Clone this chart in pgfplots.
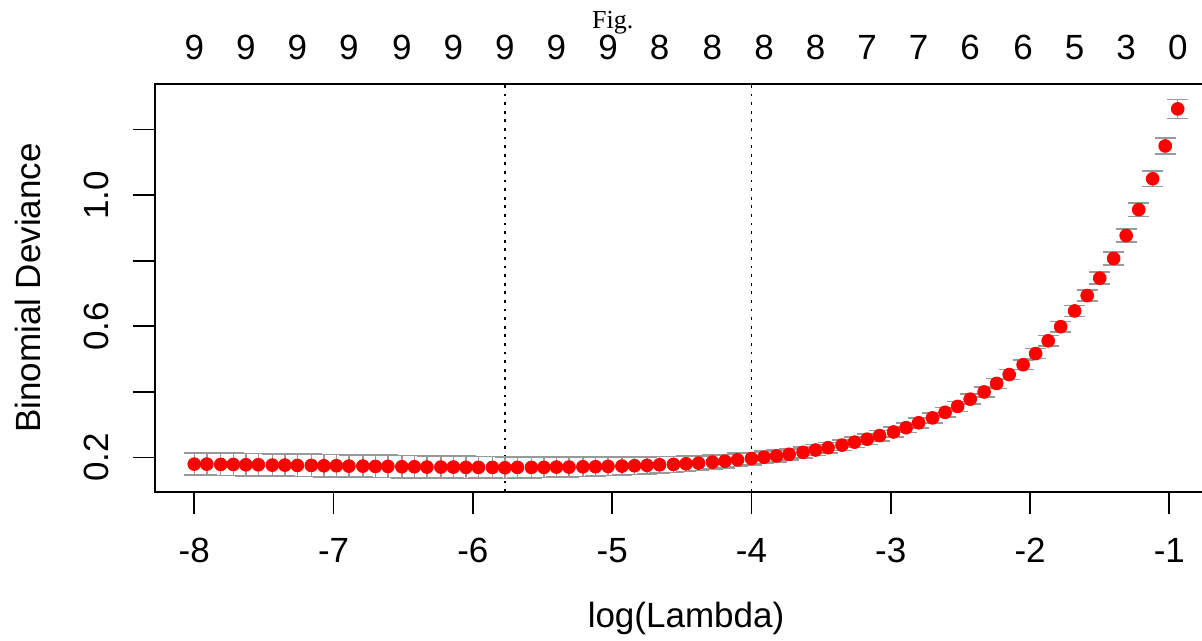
\documentclass[border=0pt]{standalone}
\usepackage{pgfplots}
\pgfplotsset{compat=1.18}
\usepackage{pgfplotstable}
\usepackage{fontspec}
\setmainfont{Liberation Sans}
\newfontfamily\seriffont{Liberation Serif}
\definecolor{errgray}{HTML}{999999}

% cv curve: log(lambda), mean deviance, standard error
\pgfplotstableread{
x y e
-8.00 0.180 0.034
-7.91 0.180 0.034
-7.81 0.179 0.034
-7.72 0.179 0.034
-7.63 0.178 0.034
-7.54 0.178 0.034
-7.44 0.177 0.034
-7.35 0.177 0.034
-7.26 0.176 0.034
-7.16 0.176 0.034
-7.07 0.175 0.034
-6.98 0.175 0.034
-6.89 0.174 0.034
-6.79 0.174 0.034
-6.70 0.173 0.034
-6.61 0.173 0.034
-6.51 0.172 0.034
-6.42 0.172 0.034
-6.33 0.171 0.034
-6.23 0.171 0.034
-6.14 0.171 0.034
-6.05 0.170 0.034
-5.96 0.170 0.033
-5.86 0.170 0.033
-5.77 0.169 0.033
-5.68 0.170 0.032
-5.58 0.170 0.032
-5.49 0.170 0.031
-5.40 0.171 0.031
-5.31 0.171 0.030
-5.21 0.172 0.030
-5.12 0.172 0.029
-5.03 0.173 0.028
-4.93 0.174 0.028
-4.84 0.175 0.027
-4.75 0.176 0.026
-4.66 0.178 0.025
-4.56 0.179 0.024
-4.47 0.181 0.023
-4.38 0.183 0.022
-4.28 0.186 0.021
-4.19 0.189 0.020
-4.10 0.193 0.020
-4.00 0.197 0.019
-3.91 0.201 0.019
-3.82 0.205 0.018
-3.73 0.210 0.017
-3.63 0.216 0.017
-3.54 0.223 0.017
-3.45 0.230 0.016
-3.35 0.238 0.016
-3.26 0.247 0.016
-3.17 0.256 0.016
-3.08 0.267 0.016
-2.98 0.278 0.015
-2.89 0.291 0.015
-2.80 0.306 0.015
-2.70 0.321 0.015
-2.61 0.338 0.015
-2.52 0.356 0.015
-2.43 0.378 0.015
-2.33 0.400 0.015
-2.24 0.426 0.015
-2.15 0.453 0.015
-2.05 0.483 0.015
-1.96 0.517 0.015
-1.87 0.556 0.016
-1.78 0.599 0.016
-1.68 0.647 0.017
-1.59 0.694 0.017
-1.50 0.747 0.018
-1.40 0.807 0.019
-1.31 0.877 0.020
-1.22 0.956 0.021
-1.12 1.050 0.024
-1.03 1.150 0.025
-0.94 1.263 0.029
}\cvdata

\begin{document}
\begin{tikzpicture}
\path[use as bounding box, clip] (-77.5pt,-74.5pt) rectangle (523.5pt,246pt);

\begin{axis}[
    at={(0,0)}, anchor=south west,
    scale only axis,
    width=531pt, height=204pt,
    xmin=-8.282, xmax=-0.658,
    ymin=0.095, ymax=1.339,
    axis line style={line width=1pt},
    every tick/.style={black, line width=0.9pt},
    tick align=outside,
    major tick length=11pt,
    xtick pos=bottom, ytick pos=left,
    xtick={-8,-7,-6,-5,-4,-3,-2,-1},
    xticklabels={-8,-7,-6,-5,-4,-3,-2,-1},
    ytick={0.2,0.4,0.6,0.8,1.0,1.2},
    yticklabels={0.2,,0.6,,1.0,},
    tick label style={font=\fontsize{17.5}{21}\selectfont},
    x tick label style={anchor=north, inner sep=0pt, yshift=-12pt},
    y tick label style={xshift=-12pt, rotate=90, anchor=south, inner sep=0pt},
    xlabel={log(Lambda)},
    ylabel={Binomial Deviance},
    every axis x label/.style={at={(axis description cs:0.5,-0.309)}, anchor=center,
        font=\fontsize{17.5}{21}\selectfont},
    every axis y label/.style={at={(axis description cs:-0.1196,0.5)}, anchor=center, rotate=90,
        font=\fontsize{17.5}{21}\selectfont},
    clip=false,
]
% dotted lines at lambda.min and lambda.1se
\addplot[black, line width=0.8pt, dash pattern=on 1.4pt off 2.9pt]
    coordinates {(-5.77,0.095) (-5.77,1.339)};
\addplot[black, line width=0.8pt, dash pattern=on 1.4pt off 2.9pt]
    coordinates {(-4.00,0.095) (-4.00,1.339)};

% error bars
\addplot[draw=none, mark=none,
    error bars/.cd, y dir=both, y explicit,
    error bar style={draw=errgray, line width=0.7pt, solid},
    error mark options={draw=errgray, rotate=90, mark size=5.2pt, line width=0.8pt}]
    table[x=x, y=y, y error=e] {\cvdata};

% mean deviance
\addplot[only marks, mark=*, mark size=3.2pt, color=red, fill=red]
    table[x=x, y=y] {\cvdata};
\end{axis}

% number of nonzero coefficients along the top
\begin{axis}[
    at={(0,0)}, anchor=south west,
    scale only axis,
    width=531pt, height=204pt,
    xmin=-8.282, xmax=-0.658,
    ymin=0.095, ymax=1.339,
    axis x line*=top,
    hide y axis,
    axis line style={draw=none},
    major tick length=0pt,
    xtick={-8.00,-7.63,-7.26,-6.89,-6.51,-6.14,-5.77,-5.40,-5.03,-4.66,-4.28,-3.91,-3.54,-3.17,-2.80,-2.43,-2.05,-1.68,-1.31,-0.94},
    xticklabels={9,9,9,9,9,9,9,9,9,8,8,8,8,7,7,6,6,5,3,0},
    tick label style={font=\fontsize{17.5}{21}\selectfont},
    x tick label style={anchor=base, inner sep=0pt, yshift=12pt},
]
\end{axis}

\node[anchor=base, font=\seriffont\fontsize{13}{15}\selectfont] at (228.9pt,231.9pt) {Fig.};
\end{tikzpicture}
\end{document}
